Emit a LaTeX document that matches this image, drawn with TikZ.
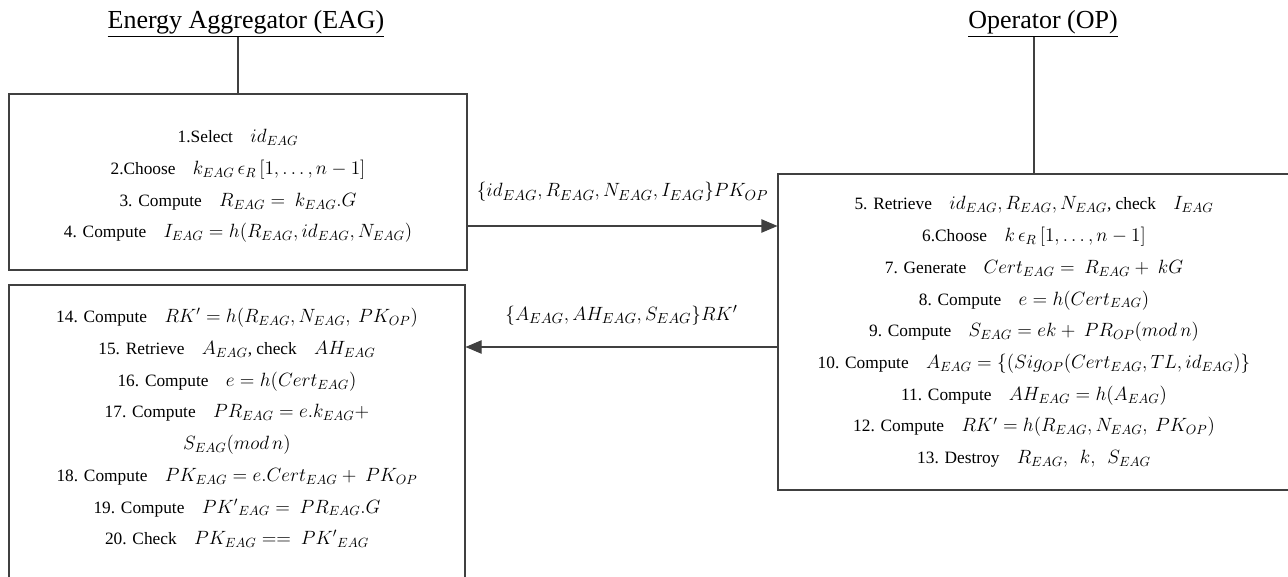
\documentclass[tikz,border=0pt]{standalone}
\usepackage{fontspec}
\setmainfont{Liberation Serif}
\DeclareMathSizes{13}{13.9}{10}{7.5}
\DeclareMathSizes{14}{14.6}{10.5}{8}
\usetikzlibrary{arrows.meta}
\begin{document}
\begin{tikzpicture}[x=0.75pt,y=-0.75pt,
  every node/.style={inner sep=0pt},
  stepbox/.style={draw=black!75,line width=0.8pt,rectangle},
  steptext/.style={align=center,font=\fontsize{13}{23.8}\selectfont},
  title/.style={font=\fontsize{19.5}{22}\selectfont},
  conn/.style={draw=black!75,line width=0.8pt},
  msg/.style={conn,-{Triangle[length=12pt,width=10pt]}},
  lbl/.style={font=\fontsize{14}{16}\selectfont}]
\useasboundingbox (0,0) rectangle (1288,577);
\clip (0,0) rectangle (1288,577);

\node[title] (eag) at (246,24) {\underline{Energy Aggregator (EAG)}};
\node[title] (op) at (1043,24) {\underline{Operator (OP)}};

\node[stepbox,minimum width=343.5pt,minimum height=132pt] (b1) at (238,182) {};
\node[steptext] (t1) at (238,186) {%
1.Select\quad $id_{EAG}$\\
2.Choose\quad $k_{EAG}\,\epsilon_R\,[1,\dots,n-1]$\\
3. Compute\quad $R_{EAG} =\ k_{EAG}.G$\\
4. Compute\quad $I_{EAG} = h(R_{EAG}, id_{EAG}, N_{EAG})$};

\node[stepbox,steptext,minimum width=384pt,minimum height=237pt] (b2) at (1034,332) {%
5. Retrieve\quad $id_{EAG}, R_{EAG}, N_{EAG}$, check\quad $I_{EAG}$\\
6.Choose\quad $k\,\epsilon_R\,[1,\dots,n-1]$\\
7. Generate\quad $Cert_{EAG} =\ R_{EAG} +\ kG$\\
8. Compute\quad $e = h(Cert_{EAG})$\\
9. Compute\quad $S_{EAG} = ek +\ PR_{OP}(mod\,n)$\\
10. Compute\quad $A_{EAG} = \{(Sig_{OP}(Cert_{EAG}, TL, id_{EAG})\}$\\
11. Compute\quad $AH_{EAG} = h(A_{EAG})$\\
12. Compute\quad $RK' = h(R_{EAG}, N_{EAG},\ PK_{OP})$\\
13. Destroy\quad $R_{EAG},\ \ k,\ \ S_{EAG}$};

\node[stepbox,minimum width=342pt,minimum height=228.75pt] (b3) at (237,437.5) {};
\node[steptext] (t3) at (237,428) {%
14. Compute\quad $RK' = h(R_{EAG}, N_{EAG},\ PK_{OP})$\\
15. Retrieve\quad $A_{EAG}$, check\quad $AH_{EAG}$\\
16. Compute\quad $e = h(Cert_{EAG})$\\
17. Compute\quad $PR_{EAG} = e.k_{EAG} +$\\
$S_{EAG}(mod\,n)$\\
18. Compute\quad $PK_{EAG} = e.Cert_{EAG} +\ PK_{OP}$\\
19. Compute\quad ${PK'}_{EAG} =\ PR_{EAG}.G$\\
20. Check\quad $PK_{EAG} ==\ {PK'}_{EAG}$};

\coordinate (y1) at (0,226);
\coordinate (y2) at (0,347);
\draw[conn] (b1.north) -- (b1.north |- eag.south);
\draw[conn] (b2.north) -- (b2.north |- op.south);
\draw[msg] (b1.east |- y1) -- node[lbl,above=18pt] (m1) {$\{id_{EAG}, R_{EAG}, N_{EAG}, I_{EAG}\}PK_{OP}$} (b2.west |- y1);
\draw[msg] (b2.west |- y2) -- node[lbl,above=16pt] (m2) {$\{A_{EAG}, AH_{EAG}, S_{EAG}\}RK'$} (b3.east |- y2);
\end{tikzpicture}
\end{document}
